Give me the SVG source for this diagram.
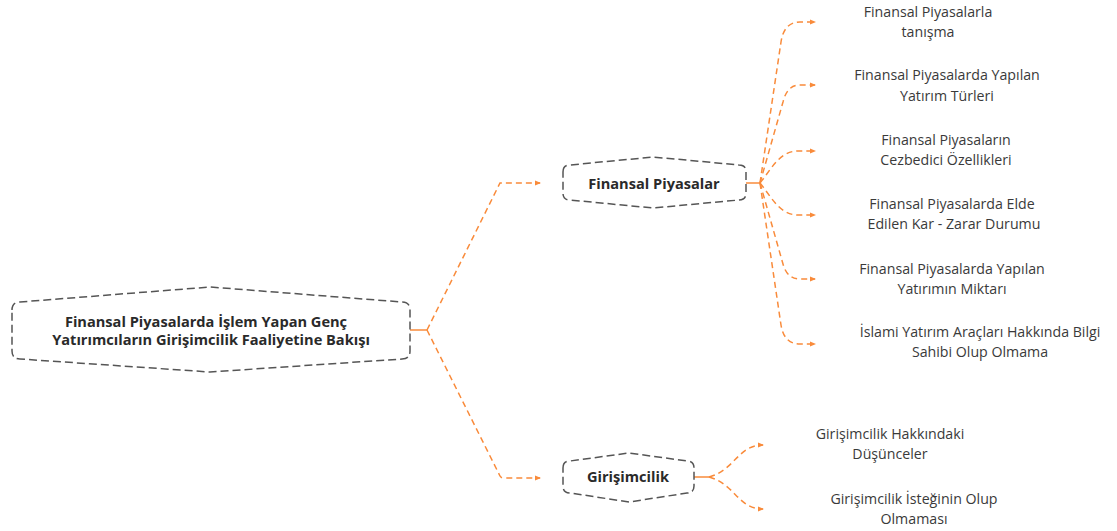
<svg xmlns="http://www.w3.org/2000/svg" width="1117" height="531" viewBox="0 0 1117 531">
<style>
.node{fill:#fff;stroke:#555;stroke-width:1.5;stroke-dasharray:8 4;}
.main{font-family:"Open Sans","Liberation Sans",sans-serif;font-weight:bold;font-size:14.6px;fill:#2a2a2a;text-anchor:middle;}
.lbl{font-family:"Open Sans","Liberation Sans",sans-serif;font-size:14.2px;fill:#3a3a3a;text-anchor:middle;}
.c{fill:none;stroke:#F98B3B;stroke-width:1.5;stroke-dasharray:6 4;}
.s{fill:none;stroke:#F98B3B;stroke-width:1.5;}
</style>
<defs>
<marker id="ah" viewBox="0 0 6 6" refX="5" refY="3" markerWidth="6" markerHeight="6" markerUnits="userSpaceOnUse" orient="auto">
<path d="M0,0.5 L6,3 L0,5.5 Z" fill="#F98B3B"/>
</marker>
</defs>
<g id="connectors">
<path class="s" d="M410,330 L427,330"/>
<path class="c" d="M427,330 L500,183 L540,183" marker-end="url(#ah)"/>
<path class="c" d="M427,330 L500,476 Q501,478 504,478 L540,478" marker-end="url(#ah)"/>
<path class="s" d="M746,183 L760,183"/>
<path class="c" d="M760,183 L781,42 Q784,22 800,22 L815,22" marker-end="url(#ah)"/>
<path class="c" d="M760,183 L783,102 Q787,85 800,85 L815,85" marker-end="url(#ah)"/>
<path class="c" d="M760,183 C772,168 780,151 798,151 L815,151" marker-end="url(#ah)"/>
<path class="c" d="M760,183 C772,198 780,215 798,215 L815,215" marker-end="url(#ah)"/>
<path class="c" d="M760,183 L783,264 Q787,279 800,279 L815,279" marker-end="url(#ah)"/>
<path class="c" d="M760,183 L781,325 Q784,344 800,344 L815,344" marker-end="url(#ah)"/>
<path class="s" d="M694,477 L709,477"/>
<path class="c" d="M709,477 C735,470 738,445 763,445" marker-end="url(#ah)"/>
<path class="c" d="M709,477 C735,484 738,509 763,509" marker-end="url(#ah)"/>
</g>
<g id="root">
<path class="node" d="M12,310 Q12,302 20,302 L210,287 L402,302 Q410,302 410,310 L410,351 Q410,359 402,359 L210,372 L20,359 Q12,359 12,351 Z"/>
<text class="main" x="206" y="327">Finansal Piyasalarda İşlem Yapan Genç</text>
<text class="main" x="211" y="345">Yatırımcıların Girişimcilik Faaliyetine Bakışı</text>
</g>
<g id="finansal-piyasalar">
<path class="node" d="M563,172 Q563,165 570,165 L653,157 L739,165 Q746,165 746,172 L746,193 Q746,200 739,200 L653,208 L570,200 Q563,200 563,193 Z"/>
<text class="main" x="654" y="189">Finansal Piyasalar</text>
</g>
<g id="girisimcilik">
<path class="node" d="M563,468 Q563,461 570,461 L629,453 L687,461 Q694,461 694,468 L694,486 Q694,493 687,493 L629,502 L570,493 Q563,493 563,486 Z"/>
<text class="main" x="628" y="482">Girişimcilik</text>
</g>
<g id="t1"><text class="lbl" x="928" y="17">Finansal Piyasalarla</text><text class="lbl" x="928" y="37">tanışma</text></g>
<g id="t2"><text class="lbl" x="947" y="80">Finansal Piyasalarda Yapılan</text><text class="lbl" x="947" y="101">Yatırım Türleri</text></g>
<g id="t3"><text class="lbl" x="946" y="145">Finansal Piyasaların</text><text class="lbl" x="946" y="165">Cezbedici Özellikleri</text></g>
<g id="t4"><text class="lbl" x="952" y="209">Finansal Piyasalarda Elde</text><text class="lbl" x="954" y="229">Edilen Kar - Zarar Durumu</text></g>
<g id="t5"><text class="lbl" x="952" y="274">Finansal Piyasalarda Yapılan</text><text class="lbl" x="952" y="294">Yatırımın Miktarı</text></g>
<g id="t6"><text class="lbl" x="980" y="337">İslami Yatırım Araçları Hakkında Bilgi</text><text class="lbl" x="980" y="357">Sahibi Olup Olmama</text></g>
<g id="t7"><text class="lbl" x="890" y="439">Girişimcilik Hakkındaki</text><text class="lbl" x="890" y="459">Düşünceler</text></g>
<g id="t8"><text class="lbl" x="914" y="504">Girişimcilik İsteğinin Olup</text><text class="lbl" x="914" y="524">Olmaması</text></g>
</svg>
